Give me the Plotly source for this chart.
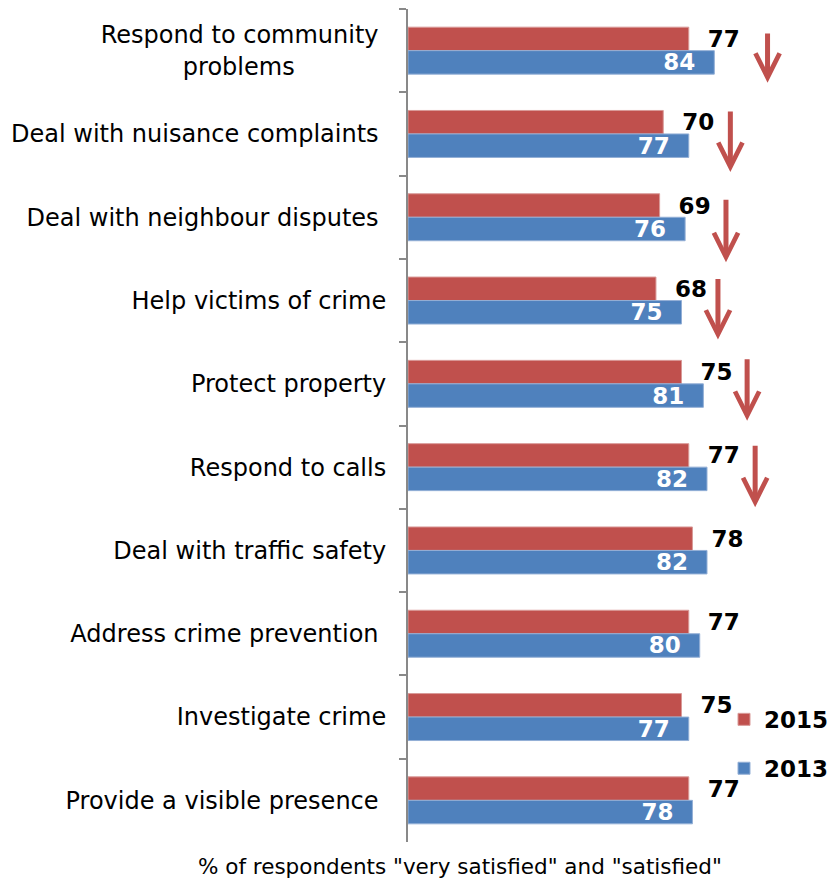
import plotly.graph_objects as go

NB = "\u00a0"

# Service areas, listed top to bottom
categories = [
    "Respond to community" + NB + "<br>problems" + NB * 12,
    "Deal with nuisance complaints" + NB,
    "Deal with neighbour disputes" + NB,
    "Help victims of crime",
    "Protect property",
    "Respond to calls",
    "Deal with traffic safety",
    "Address crime prevention" + NB,
    "Investigate crime",
    "Provide a visible presence" + NB,
]
# % of respondents "very satisfied" and "satisfied"
values_2015 = [77, 70, 69, 68, 75, 77, 78, 77, 75, 77]
values_2013 = [84, 77, 76, 75, 81, 82, 82, 80, 77, 78]

RED = "#C0504D"
BLUE = "#4F81BD"
FONT = "DejaVu Sans"

fig = go.Figure()
fig.add_trace(go.Bar(
    name="2015", y=categories, x=values_2015, orientation="h",
    marker=dict(color=RED, line=dict(color="#D99A98", width=1)),
    text=values_2015, texttemplate=NB + NB + "%{x}", textposition="outside",
    textfont=dict(family=FONT, size=23, color="black", weight="bold"),
    constraintext="none", cliponaxis=False, legendgroup="a",
))
fig.add_trace(go.Bar(
    name="2013", y=categories, x=values_2013, orientation="h",
    marker=dict(color=BLUE, line=dict(color="#93AFD6", width=1)),
    text=values_2013, texttemplate="%{x}" + NB + NB, textposition="inside",
    insidetextanchor="end",
    textfont=dict(family=FONT, size=23, color="white", weight="bold"),
    constraintext="none", cliponaxis=False, legendgroup="b",
))

# Downward arrows marking the declines since 2013
# (category index, x in data units, tip shift px, tail offset px)
arrows = [
    (0, 98.6, -32, -63),
    (1, 88.4, -38, -62),
    (2, 87.2, -45, -64),
    (3, 85.0, -39, -62),
    (4, 93.0, -37, -63),
    (5, 95.2, -40, -63),
]
for idx, ax_x, ysh, tail in arrows:
    fig.add_annotation(
        x=ax_x, y=categories[idx], xref="x", yref="y", yshift=ysh,
        ax=0, ay=tail, showarrow=True, arrowhead=5, arrowsize=0.95,
        arrowwidth=5, arrowcolor=RED, standoff=0, text="",
    )

fig.add_annotation(
    text='% of respondents "very satisfied" and "satisfied"',
    xref="paper", yref="paper", x=(460 - 408) / 426, y=-24 / 833,
    xanchor="center", yanchor="middle", showarrow=False,
    font=dict(family=FONT, size=21.5, color="black"),
)

fig.update_layout(
    width=834, height=882,
    margin=dict(l=408, r=0, t=9, b=40),
    paper_bgcolor="white", plot_bgcolor="white",
    barmode="group", bargap=0.436, bargroupgap=0,
    font=dict(family=FONT, color="black"),
    showlegend=True,
    legend=dict(
        x=(725 - 408) / 426, y=0.173, xanchor="left", yanchor="top",
        font=dict(family=FONT, size=23, color="black", weight="bold"),
        traceorder="grouped", tracegroupgap=16, bgcolor="rgba(0,0,0,0)",
    ),
    xaxis=dict(range=[0, 116.55], visible=False, fixedrange=True),
    yaxis=dict(
        range=[len(categories) - 0.5, -0.5], showline=True,
        linecolor="#898989", linewidth=2,
        ticks="outside", tickson="boundaries", ticklen=7, tickwidth=2,
        tickcolor="#898989", showgrid=False, zeroline=False,
        tickfont=dict(family=FONT, size=24, color="black"),
        ticklabelstandoff=15,
    ),
)

fig.write_html("out.html")
